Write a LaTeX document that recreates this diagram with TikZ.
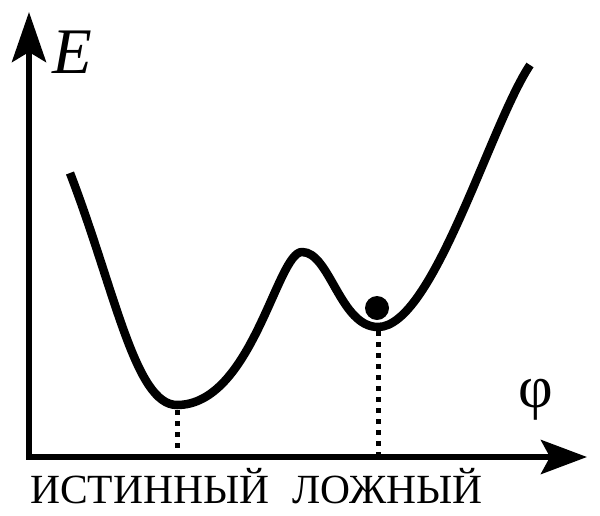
\documentclass[tikz,border=0pt]{standalone}
\usepackage{fontspec}
\setmainfont{Liberation Serif}
\usetikzlibrary{arrows.meta}
\tikzset{
  axisline/.style={line width=6pt, line join=miter},
  curveline/.style={line width=8.5pt, line cap=butt, line join=round},
  dropline/.style={line width=5pt, dash pattern=on 5pt off 6pt},
  lbl/.style={inner sep=0pt, font=\fontsize{41.5}{41.5}\selectfont},
}
\begin{document}
\begin{tikzpicture}[x=1pt,y=-1pt]
\useasboundingbox (0,0) rectangle (600,515);
% axes
\coordinate (ytip) at (29,12);
\coordinate (orig) at (29,457);
\coordinate (xtip) at (587,457);
\draw[axisline, {Stealth[length=50pt,width=34pt,inset=10pt]}-{Stealth[length=46pt,width=34pt,inset=9pt]}] (ytip) -- (orig) -- (xtip);
% curve
\coordinate (start) at (70,173);
\coordinate (gmin) at (177,405);
\coordinate (top) at (302,252);
\coordinate (lmin) at (378,327);
\coordinate (stop) at (530,65);
\draw[curveline] (start) .. controls (115,290) and (135,405) .. (gmin)
  .. controls (252,405) and (277,252) .. (top)
  .. controls (330,252) and (340,327) .. (lmin)
  .. controls (433,327) and (490,125) .. (stop);
% drop lines
\coordinate (truemin) at (177,410);
\coordinate (truebase) at (177,455);
\coordinate (falsemin) at (378,331);
\coordinate (falsebase) at (378,455);
\draw[dropline] (truemin) -- (truebase);
\draw[dropline] (falsemin) -- (falsebase);
% ball
\fill (377,308) circle[radius=12pt];
% labels
\node[inner sep=0pt, anchor=base west, font=\fontsize{65}{65}\selectfont\itshape] (E) at (52,73) {E};
\node[inner sep=0pt, font=\fontsize{60}{60}\selectfont] (phi) at (536,400) {φ};
\node[lbl, anchor=base west] (true) at (30,503) {ИСТИННЫЙ};
\node[lbl, anchor=base west] (false) at (292,503) {ЛОЖНЫЙ};
\end{tikzpicture}
\end{document}
